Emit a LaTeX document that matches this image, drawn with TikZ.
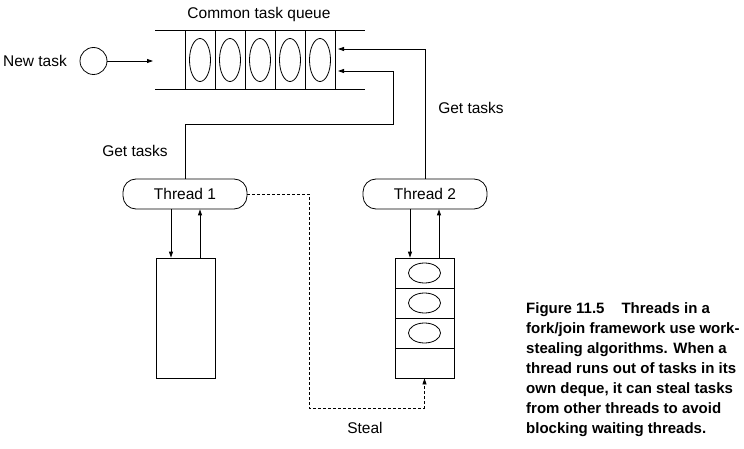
\documentclass[tikz,border=0pt]{standalone}
\usepackage{fontspec}
\setmainfont{Liberation Sans}
\usetikzlibrary{arrows.meta,shapes.geometric}
\begin{document}
\begin{tikzpicture}[x=1pt,y=-1pt,
  every node/.style={font=\fontsize{15.5}{18}\selectfont},
  line/.style={line width=0.8pt},
  arr/.style={line width=0.8pt,-{Triangle[length=6pt,width=4pt]}},
  qcell/.style={draw,line width=0.8pt,minimum width=30pt,minimum height=59pt,inner sep=0pt},
  dcell/.style={draw,line width=0.8pt,minimum width=59pt,minimum height=30pt,inner sep=0pt},
  qegg/.style={draw,ellipse,line width=0.8pt,minimum width=21pt,minimum height=43pt,inner sep=0pt},
  degg/.style={draw,ellipse,line width=0.8pt,minimum width=32pt,minimum height=20pt,inner sep=0pt},
  thread/.style={draw,line width=0.8pt,rounded corners=13pt,minimum width=124pt,minimum height=30pt,inner sep=0pt},
  stealline/.style={arr,dash pattern=on 3pt off 2pt}
]
\useasboundingbox (0,0) rectangle (744,449);

% common task queue
\node (qtitle) at (259,14) {Common task queue};
\draw[line] (155,30) -- (365,30);
\draw[line] (155,89) -- (365,89);
\foreach \i/\x in {1/200,2/230,3/260,4/290,5/320}{
  \node[qcell] (q\i) at (\x,59.5) {};
  \node[qegg] (qe\i) at (\x,60) {};
}

% new task
\node (ntlabel) at (35,61) {New task};
\node[draw,circle,line width=0.8pt,minimum size=27pt,inner sep=0pt] (nt) at (93.5,61) {};
\coordinate (qin) at (153,61);
\draw[arr] (nt) -- (qin);

% threads
\node[thread] (t1) at (185,194) {Thread 1};
\node[thread] (t2) at (425,194) {Thread 2};

% deques
\node[draw,line width=0.8pt,minimum width=59pt,minimum height=120pt,inner sep=0pt] (d1) at (185.5,318) {};
\foreach \i/\y in {1/273,2/303,3/333,4/363}{
  \node[dcell] (e\i) at (424.5,\y) {};
}
\foreach \i in {1,2,3}{
  \node[degg] (ee\i) at (e\i) {};
}

% thread <-> deque arrows
\draw[arr] ([xshift=-14pt]t1.south) -- ([xshift=-14pt]t1.south |- d1.north);
\draw[arr] ([xshift=15pt]t1.south |- d1.north) -- ([xshift=15pt]t1.south);
\draw[arr] ([xshift=-15pt]t2.south) -- ([xshift=-15pt]t2.south |- e1.north);
\draw[arr] ([xshift=14pt]t2.south |- e1.north) -- ([xshift=14pt]t2.south);

% get tasks
\coordinate (k1) at (393,124);
\coordinate (qa) at (338,71);
\coordinate (qb) at (338,49);
\draw[arr] (t1.north) |- (k1) |- (qa);
\draw[arr] (t2.north) |- (qb);
\node (gt1) at (135,151) {Get tasks};
\node (gt2) at (471,108) {Get tasks};

% steal
\coordinate (sc) at (309,408);
\draw[stealline] (t1.east) -| (sc) -| (e4.south);
\node (steal) at (365,428) {Steal};

% caption
\node[anchor=north west,inner sep=0pt,align=left,font=\bfseries\fontsize{15}{20}\selectfont] (cap) at (526,302.5)
{Figure 11.5\hspace{17pt}Threads in a\\
fork/join framework use work-\\
stealing algorithms. When a\\
thread runs out of tasks in its\\
own deque, it can steal tasks\\
from other threads to avoid\\
blocking waiting threads.};
\end{tikzpicture}
\end{document}
